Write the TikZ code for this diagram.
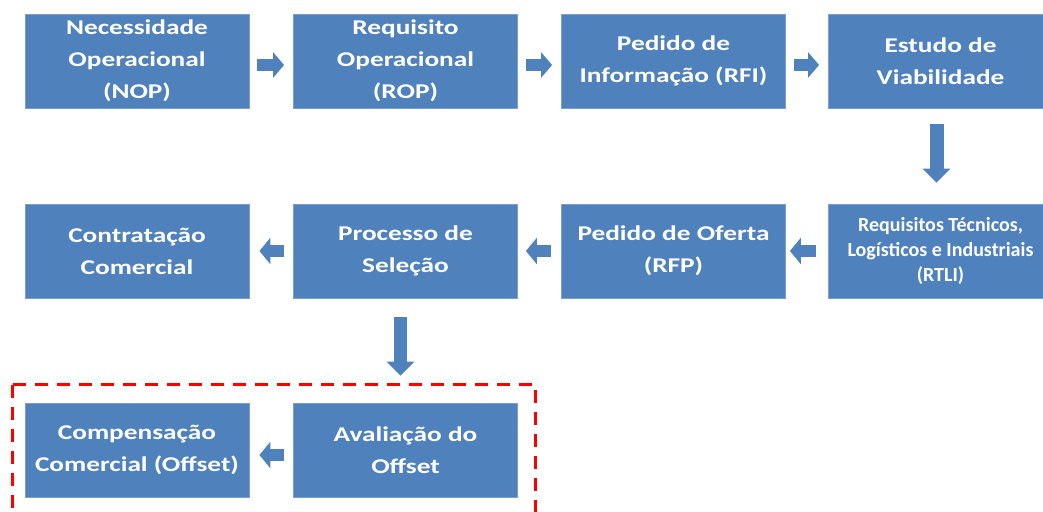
\documentclass[tikz,border=0pt]{standalone}
\usepackage{fontspec}
\setmainfont{Carlito}[FakeStretch=1.3]
\newfontfamily\narrowfont{Carlito}
\usetikzlibrary{arrows.meta}
\definecolor{boxblue}{RGB}{79,129,189}
\definecolor{boxedge}{RGB}{124,158,206}
\begin{document}
\begin{tikzpicture}[x=1pt,y=-1pt,
  stage/.style={rectangle, fill=boxblue, draw=boxedge, line width=0.8pt, minimum width=224pt, minimum height=94pt, inner sep=0pt, text=white, align=center, font=\fontsize{21}{32}\selectfont\bfseries},
  flowright/.style={draw=boxblue, line width=12pt, shorten <=8pt, shorten >=9pt, -{Triangle[width=25pt,length=11pt]}},
  flowleft/.style={draw=boxblue, line width=12pt, shorten <=10pt, shorten >=8pt, -{Triangle[width=26pt,length=11pt]}},
  flowdown/.style={draw=boxblue, line width=14pt, -{Triangle[width=27pt,length=14pt]}},
  offsetframe/.style={draw=red, line width=3pt, dash pattern=on 13pt off 9pt}]
\useasboundingbox (0,0) rectangle (1043,511);
\node[stage] (nop) at (137,61) {Necessidade\\Operacional\\(NOP)};
\node[stage] (rop) at (405.5,61) {Requisito\\Operacional\\(ROP)};
\node[stage] (rfi) at (673.5,61) {Pedido de\\Informação (RFI)};
\node[stage] (est) at (940.5,61) {Estudo de\\Viabilidade};
\draw[flowright]([yshift=-4pt]nop.east) -- ([yshift=-4pt]rop.west);
\draw[flowright]([yshift=-4pt]rop.east) -- ([yshift=-4pt]rfi.west);
\draw[flowright]([yshift=-4pt]rfi.east) -- ([yshift=-4pt]est.west);
\node[stage, font=\narrowfont\fontsize{20}{25}\selectfont\bfseries] (rtli) at (940.5,251) {Requisitos Técnicos,\\Logísticos e Industriais\\(RTLI)};
\node[stage] (rfp) at (673.5,251) {Pedido de Oferta\\(RFP)};
\node[stage] (sel) at (405.5,251) {Processo de\\Seleção};
\node[stage] (cont) at (137,251) {Contratação\\Comercial};
\draw[flowdown, shorten <=16pt, shorten >=21pt]([xshift=-4pt]est.south) -- ([xshift=-4pt]rtli.north);
\draw[flowleft, shorten <=12pt, shorten >=4pt](rtli.west) -- (rfp.east);
\draw[flowleft](rfp.west) -- (sel.east);
\draw[flowleft, shorten <=9pt, shorten >=10pt](sel.west) -- (cont.east);
\node[stage] (aval) at (405.5,450) {Avaliação do\\Offset};
\node[stage] (comp) at (137,450) {Compensação\\Comercial (Offset)};
\draw[flowdown, line width=13pt, shorten <=19pt, shorten >=27pt]([xshift=-5pt]sel.south) -- ([xshift=-5pt]aval.north);
\draw[flowleft, shorten <=9pt, shorten >=10pt]([yshift=-5pt]aval.west) -- ([yshift=-5pt]comp.east);
% moldura do offset
\draw[offsetframe] (12.5,384.5) -- (535,384.5) -- (535,530) (12.5,530) -- (12.5,384.5);
\end{tikzpicture}
\end{document}
